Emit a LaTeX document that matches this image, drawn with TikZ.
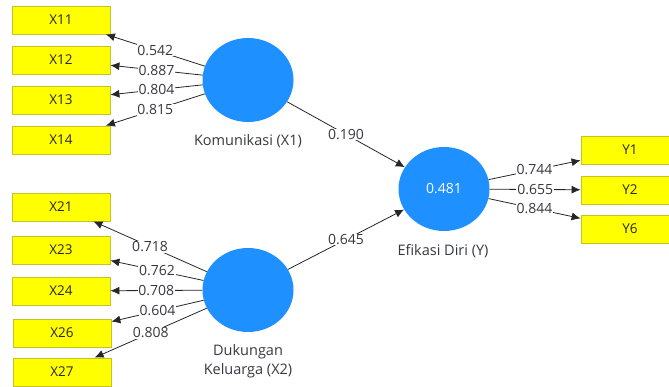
\documentclass[tikz,border=0pt]{standalone}
\usepackage{fontspec}
\setmainfont{Open Sans}
\usetikzlibrary{arrows.meta,shapes.geometric}
\definecolor{lvblue}{RGB}{30,144,255}
\definecolor{boxyellow}{RGB}{255,255,0}
\definecolor{boxborder}{RGB}{195,195,40}
\definecolor{txtgray}{RGB}{55,55,65}
\begin{document}
\begin{tikzpicture}[x=1pt,y=-1pt,
  ind/.style={rectangle, draw=boxborder, line width=0.8pt, fill=boxyellow, minimum width=98pt, minimum height=28pt, inner sep=0pt, font=\fontsize{13.5}{15}\selectfont, text=black!85},
  lv/.style={ellipse, fill=lvblue, minimum width=91pt, minimum height=84pt, inner sep=0pt, text=white, font=\fontsize{14}{16}\selectfont},
  lvname/.style={font=\fontsize{14.5}{18.5}\selectfont, text=txtgray, align=center},
  conn/.style={draw=black!85, line width=0.8pt, -{Latex[length=9pt,width=8pt]}},
  coef/.style={fill=white, inner sep=0.8pt, font=\fontsize{14}{15}\selectfont, text=txtgray}
]
\useasboundingbox (0,0) rectangle (669,387);
% latent variables
\node[lv] (k) at (248,80) {};
\node[lv] (d) at (248,290) {};
\node[lv] (e) at (444,189) {0.481};
\node[lvname] (kn) at (248,141) {Komunikasi (X1)};
\node[lvname] (dn) at (248,361) {Dukungan\\Keluarga (X2)};
\node[lvname] (en) at (443,251) {Efikasi Diri (Y)};
% indicators
\node[ind] (x11) at (61,20) {X11};
\node[ind] (x12) at (61,60) {X12};
\node[ind] (x13) at (61,100) {X13};
\node[ind] (x14) at (61,140) {X14};
\node[ind] (x21) at (61,207) {X21};
\node[ind] (x23) at (61,250) {X23};
\node[ind] (x24) at (61,291) {X24};
\node[ind] (x26) at (62,333) {X26};
\node[ind] (x27) at (62,372) {X27};
\node[ind] (y1) at (630,150) {Y1};
\node[ind] (y2) at (630,190) {Y2};
\node[ind] (y6) at (630,229) {Y6};
% outer loadings
\draw[conn] (k) -- node[coef]{0.542} (x11);
\draw[conn] (k) -- node[coef]{0.887} (x12);
\draw[conn] (k) -- node[coef]{0.804} (x13);
\draw[conn] (k) -- node[coef]{0.815} (x14);
\draw[conn] (d) -- node[coef]{0.718} (x21);
\draw[conn] (d) -- node[coef]{0.762} (x23);
\draw[conn] (d) -- node[coef]{0.708} (x24);
\draw[conn] (d) -- node[coef]{0.604} (x26);
\draw[conn] (d) -- node[coef]{0.808} (x27);
\draw[conn] (e) -- node[coef]{0.744} (y1);
\draw[conn] (e) -- node[coef]{0.655} (y2);
\draw[conn] (e) -- node[coef]{0.844} (y6);
% path coefficients
\draw[conn] (k) -- node[coef]{0.190} (e);
\draw[conn] (d) -- node[coef]{0.645} (e);
\end{tikzpicture}
\end{document}
